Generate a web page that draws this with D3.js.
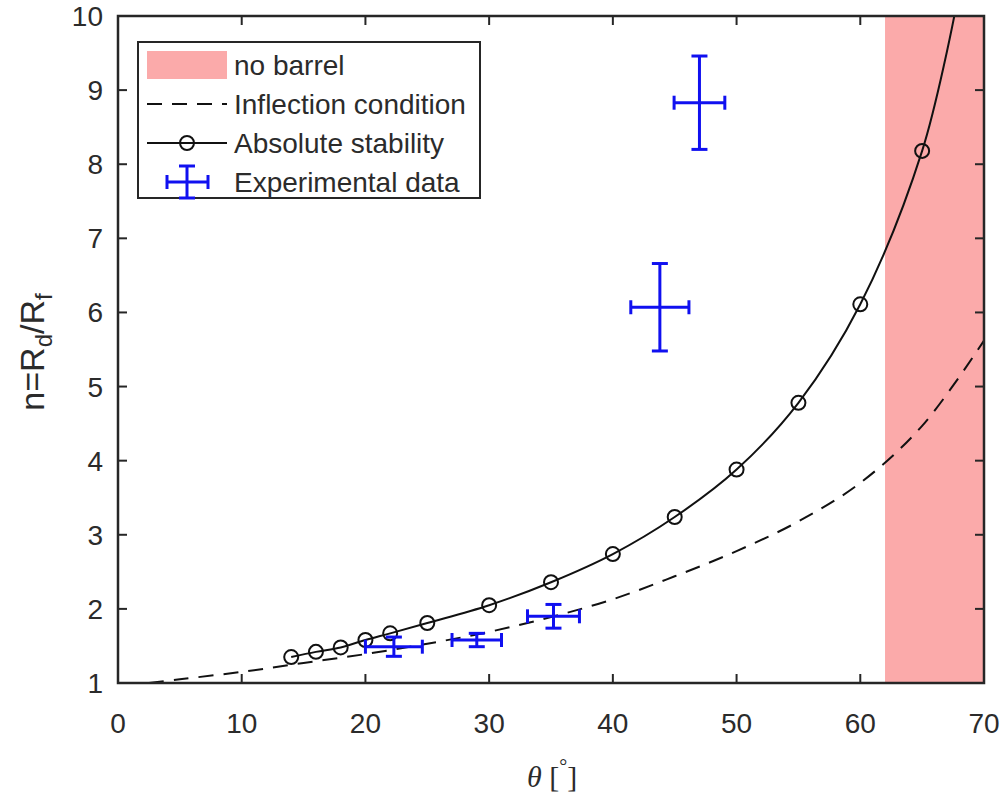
<!DOCTYPE html>
<html>
<head>
<meta charset="utf-8">
<script src="https://cdn.jsdelivr.net/npm/d3@7"></script>
<style>
  body { margin: 0; background: #ffffff; }
  text { font-family: "Liberation Sans", Arial, sans-serif; fill: #2b2b2b; }
</style>
</head>
<body>
<svg id="chart" width="1006" height="800"></svg>
<script>
// Axis ticks
const thetaTicks = [0, 10, 20, 30, 40, 50, 60, 70];
const nTicks = [1, 2, 3, 4, 5, 6, 7, 8, 9, 10];

// Region where no barrel forms
const noBarrelRange = [62, 70];

// Inflection condition (dashed curve)
const inflectionTheta = [2.5, 5, 10, 15, 20, 25, 30, 35, 40, 45, 50, 55, 60, 65, 70];
const inflectionN     = [1.00, 1.05, 1.15, 1.27, 1.39, 1.53, 1.69, 1.89, 2.13, 2.44, 2.78, 3.18, 3.70, 4.47, 5.62];

// Absolute stability (solid curve with circle markers)
const stabilityTheta = [14, 16, 18, 20, 22, 25, 30, 35, 40, 45, 50, 55, 60, 65];
const stabilityN     = [1.35, 1.42, 1.48, 1.58, 1.67, 1.81, 2.05, 2.36, 2.74, 3.24, 3.88, 4.78, 6.11, 8.18];
// curve continues past the last marker up to the top of the axes
const stabilityTailTheta = [67.6];
const stabilityTailN     = [10.0];

// Experimental data with error bars
const expTheta    = [22.3, 29.0, 35.2, 43.8, 47.0];
const expN        = [1.49, 1.58, 1.90, 6.07, 8.83];
const expThetaErr = [2.3, 2.0, 2.1, 2.35, 2.05];
const expNErr     = [0.13, 0.09, 0.16, 0.59, 0.63];

const legendLabels = ["no barrel", "Inflection condition", "Absolute stability", "Experimental data"];

const svg = d3.select("#chart");
const M = { left: 118, right: 984, top: 16, bottom: 683 };

const x = d3.scaleLinear().domain([0, 70]).range([M.left, M.right]);
const y = d3.scaleLinear().domain([1, 10]).range([M.bottom, M.top]);

const axisColor = "#262626";
const blue = "#1010f0";

svg.append("defs").append("clipPath").attr("id", "plotClip")
  .append("rect")
  .attr("x", M.left).attr("y", M.top)
  .attr("width", M.right - M.left).attr("height", M.bottom - M.top);

const plot = svg.append("g").attr("clip-path", "url(#plotClip)");

// shaded no-barrel region
plot.append("rect")
  .attr("x", x(noBarrelRange[0]))
  .attr("y", y(10))
  .attr("width", x(noBarrelRange[1]) - x(noBarrelRange[0]))
  .attr("height", y(1) - y(10))
  .attr("fill", "#fbaaaa");

// inflection condition
const inflectionPts = inflectionTheta.map((t, i) => [t, inflectionN[i]]);
const line = d3.line().x(d => x(d[0])).y(d => y(d[1])).curve(d3.curveCatmullRom.alpha(0.5));
plot.append("path")
  .attr("d", line(inflectionPts))
  .attr("fill", "none")
  .attr("stroke", "#111")
  .attr("stroke-width", 2)
  .attr("stroke-dasharray", "15,10");

// absolute stability
const stabilityPts = stabilityTheta.map((t, i) => [t, stabilityN[i]])
  .concat(stabilityTailTheta.map((t, i) => [t, stabilityTailN[i]]));
plot.append("path")
  .attr("d", line(stabilityPts))
  .attr("fill", "none")
  .attr("stroke", "#111")
  .attr("stroke-width", 2);

plot.selectAll("circle.marker")
  .data(stabilityTheta.map((t, i) => [t, stabilityN[i]]))
  .join("circle")
  .attr("class", "marker")
  .attr("cx", d => x(d[0]))
  .attr("cy", d => y(d[1]))
  .attr("r", 7)
  .attr("fill", "none")
  .attr("stroke", "#111")
  .attr("stroke-width", 2);

// error bars
function drawErrorBar(g, cx, cy, x0, x1, y0, y1, capV, capH) {
  const seg = (a, b, c, d) => g.append("line")
    .attr("x1", a).attr("y1", b).attr("x2", c).attr("y2", d)
    .attr("stroke", blue).attr("stroke-width", 3);
  seg(cx, y0, cx, y1);
  seg(cx - capV, y0, cx + capV, y0);
  seg(cx - capV, y1, cx + capV, y1);
  seg(x0, cy, x1, cy);
  seg(x0, cy - capH, x0, cy + capH);
  seg(x1, cy - capH, x1, cy + capH);
}

const eb = plot.append("g");
expTheta.forEach((t, i) => {
  drawErrorBar(eb, x(t), y(expN[i]),
    x(t - expThetaErr[i]), x(t + expThetaErr[i]),
    y(expN[i] + expNErr[i]), y(expN[i] - expNErr[i]), 8, 7);
});

// axes box with inward ticks on all sides
const axes = svg.append("g");
const tickLen = 9;
axes.selectAll("line.xt").data(thetaTicks).join("line")
  .attr("x1", d => x(d)).attr("x2", d => x(d))
  .attr("y1", M.bottom).attr("y2", M.bottom - tickLen)
  .attr("stroke", axisColor).attr("stroke-width", 2);
axes.selectAll("line.xtt").data(thetaTicks).join("line")
  .attr("x1", d => x(d)).attr("x2", d => x(d))
  .attr("y1", M.top).attr("y2", M.top + tickLen)
  .attr("stroke", axisColor).attr("stroke-width", 2);
axes.selectAll("line.yt").data(nTicks).join("line")
  .attr("x1", M.left).attr("x2", M.left + tickLen)
  .attr("y1", d => y(d)).attr("y2", d => y(d))
  .attr("stroke", axisColor).attr("stroke-width", 2);
axes.selectAll("line.ytr").data(nTicks).join("line")
  .attr("x1", M.right).attr("x2", M.right - tickLen)
  .attr("y1", d => y(d)).attr("y2", d => y(d))
  .attr("stroke", axisColor).attr("stroke-width", 2);
axes.append("rect")
  .attr("x", M.left).attr("y", M.top)
  .attr("width", M.right - M.left).attr("height", M.bottom - M.top)
  .attr("fill", "none").attr("stroke", axisColor).attr("stroke-width", 2.5);

// tick labels
axes.selectAll("text.xl").data(thetaTicks).join("text")
  .attr("x", d => x(d)).attr("y", 733)
  .attr("text-anchor", "middle")
  .attr("font-size", 28)
  .text(d => d);
axes.selectAll("text.yl").data(nTicks).join("text")
  .attr("x", 103).attr("y", d => y(d) + 10)
  .attr("text-anchor", "end")
  .attr("font-size", 28)
  .text(d => d);

// x label: θ [°]
const xl = svg.append("text")
  .attr("x", 552).attr("y", 787)
  .attr("text-anchor", "middle")
  .style("font-family", "'Liberation Serif', 'Times New Roman', serif")
  .attr("font-size", 30);
xl.append("tspan").attr("font-style", "italic").text("θ");
xl.append("tspan").text(" [");
xl.append("tspan").attr("dy", -14).attr("font-size", 20).text("°");
xl.append("tspan").attr("dy", 14).text("]");

// y label: n=R_d/R_f
const yl = svg.append("text")
  .attr("transform", "translate(44,352) rotate(-90)")
  .attr("text-anchor", "middle")
  .attr("font-size", 34);
yl.append("tspan").text("n=R");
yl.append("tspan").attr("dy", 8).attr("font-size", 24).text("d");
yl.append("tspan").attr("dy", -8).text("/R");
yl.append("tspan").attr("dy", 8).attr("font-size", 24).text("f");

// legend
const lg = svg.append("g");
lg.append("rect")
  .attr("x", 138).attr("y", 42).attr("width", 342).attr("height", 156)
  .attr("fill", "#ffffff").attr("stroke", axisColor).attr("stroke-width", 2);
const rowY = [65, 104, 143, 182];
const sx0 = 147, sx1 = 227, sxm = 187;
lg.append("rect").attr("x", sx0).attr("y", rowY[0] - 14).attr("width", sx1 - sx0).attr("height", 28)
  .attr("fill", "#fbaaaa");
lg.append("line").attr("x1", sx0).attr("x2", sx1).attr("y1", rowY[1]).attr("y2", rowY[1])
  .attr("stroke", "#111").attr("stroke-width", 2).attr("stroke-dasharray", "15,10");
lg.append("line").attr("x1", sx0).attr("x2", sx1).attr("y1", rowY[2]).attr("y2", rowY[2])
  .attr("stroke", "#111").attr("stroke-width", 2);
lg.append("circle").attr("cx", sxm).attr("cy", rowY[2]).attr("r", 7)
  .attr("fill", "none").attr("stroke", "#111").attr("stroke-width", 2);
drawErrorBar(lg, sxm, rowY[3], 167, 208, rowY[3] - 16, rowY[3] + 16, 8, 7);
lg.selectAll("text.lt").data(legendLabels).join("text")
  .attr("x", 234).attr("y", (d, i) => rowY[i] + 10)
  .attr("font-size", 28)
  .text(d => d);
</script>
</body>
</html>
